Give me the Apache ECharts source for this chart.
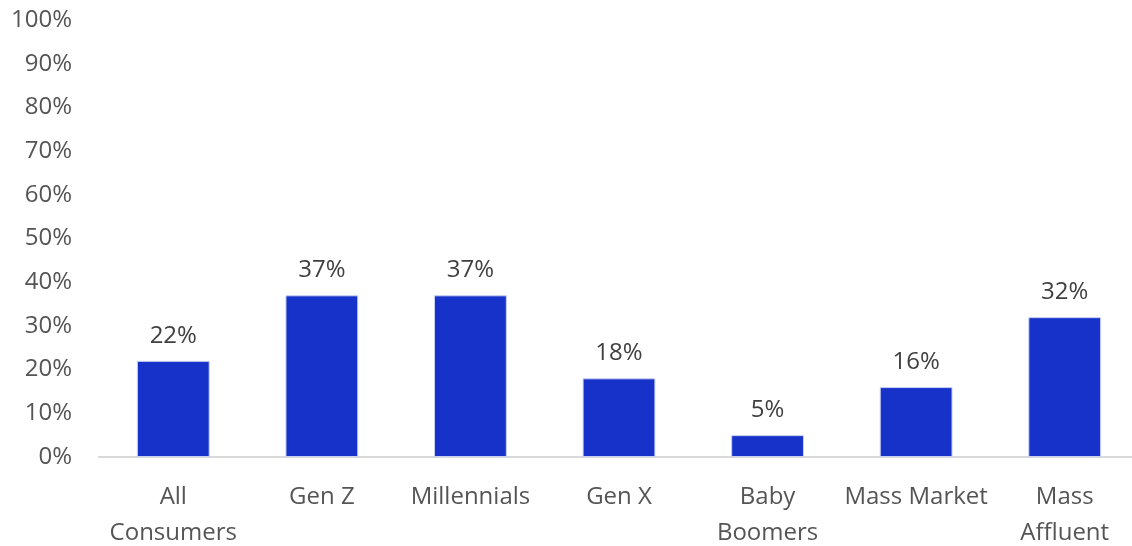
<!DOCTYPE html>
<html>
<head>
<meta charset="utf-8">
<script src="https://cdn.jsdelivr.net/npm/echarts@6/dist/echarts.min.js"></script>
<style>
  html, body { margin: 0; padding: 0; background: #ffffff; }
  #chart { width: 1132px; height: 546px; }
</style>
</head>
<body>
<div id="chart"></div>
<script>
// Share of respondents by consumer segment
const categories = ['All\nConsumers', 'Gen Z', 'Millennials', 'Gen X', 'Baby\nBoomers', 'Mass Market', 'Mass\nAffluent'];
const values = [22, 37, 37, 18, 5, 16, 32];
const yTicks = { min: 0, max: 100, interval: 10 };

const FONT = '"Open Sans", Lato, sans-serif';

const chart = echarts.init(document.getElementById('chart'), null, { renderer: 'canvas' });
chart.setOption({
  animation: false,
  grid: {
    left: 99, width: 1040, top: 20, height: 437,
    containLabel: false, outerBoundsMode: 'none'
  },
  xAxis: {
    type: 'category',
    data: categories,
    axisLine: { show: true, lineStyle: { color: '#d9d9d9', width: 2 } },
    axisTick: { show: false },
    axisLabel: {
      color: '#555555', fontSize: 24, fontFamily: FONT,
      lineHeight: 36, margin: 22, interval: 0
    }
  },
  yAxis: {
    type: 'value',
    min: yTicks.min, max: yTicks.max, interval: yTicks.interval,
    splitLine: { show: false },
    axisLine: { show: false },
    axisTick: { show: false },
    axisLabel: {
      color: '#555555', fontSize: 24, fontFamily: FONT, margin: 27,
      formatter: v => v + '%'
    }
  },
  series: [{
    type: 'bar',
    data: values,
    barWidth: '49%',
    itemStyle: { color: '#1632c8', borderColor: '#c9d0f2', borderWidth: 1 },
    label: {
      show: true, position: 'top', distance: 13,
      color: '#404040', fontSize: 24, fontFamily: FONT,
      formatter: p => p.value + '%'
    }
  }]
});
</script>
</body>
</html>
